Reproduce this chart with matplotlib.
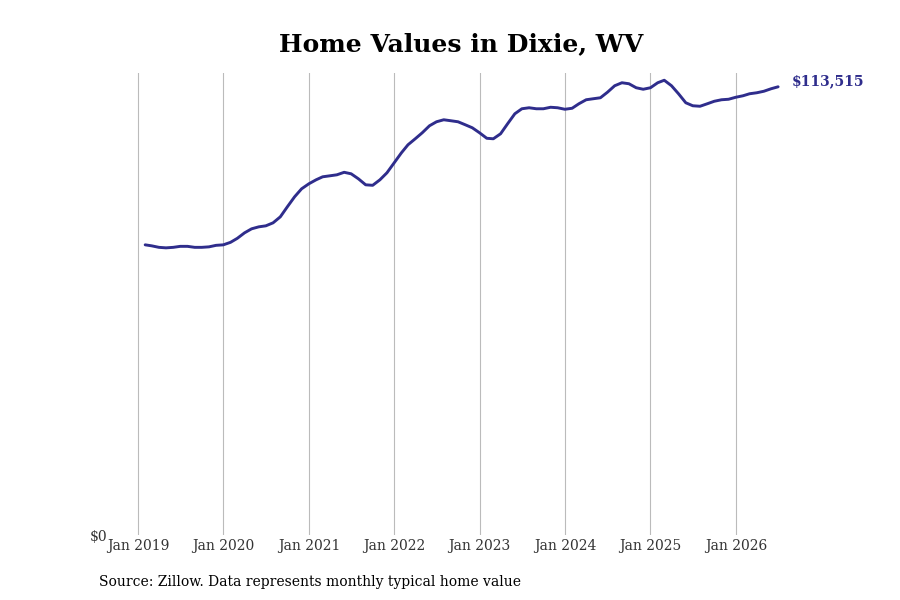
import pandas as pd
import matplotlib
matplotlib.use("Agg")
import matplotlib.pyplot as plt

# monthly typical home value, Feb 2019 .. Jul 2026
months = pd.date_range("2019-02-01", periods=90, freq="MS")
values = [
    73490, 73233, 72853, 72726, 72853, 73106, 73106, 72853, 72853, 72979, 73359,
    73486, 74120, 75133, 76527, 77540, 78047, 78301, 79061, 80581, 83115, 85649, 87676,
    88943, 89957, 90717, 90971, 91224, 91858, 91477, 90210, 88690, 88563, 89957, 91731,
    94265, 96799, 98826, 100346, 101867, 103641, 104654, 105161, 104908, 104654, 103894, 103134,
    101867, 100473, 100346, 101613, 104147, 106681, 107948, 108202, 107948, 107948, 108329, 108202,
    107822, 108075, 109215, 110229, 110482, 110736, 112130, 113777, 114537, 114283, 113270, 112890,
    113270, 114537, 115170, 113777, 111749, 109469, 108709, 108582, 109215, 109849, 110229, 110356,
    110863, 111243, 111749, 112003, 112383, 113016, 113515,
]
tick_years = list(range(2019, 2027))
tick_labels = ["Jan %d" % y for y in tick_years]

line_color = "#2f2d8c"

plt.rcParams["font.family"] = ["DejaVu Serif"]

fig = plt.figure(figsize=(9, 6), dpi=100)
ax = fig.add_axes([0.1244, 0.1083, 0.742, 0.77])

ax.plot(months, values, color=line_color, linewidth=2.1, solid_capstyle="round")

ax.set_xlim(pd.Timestamp("2018-09-12"), pd.Timestamp("2026-07-08"))
ax.set_ylim(0, 117000)

ax.set_xticks([pd.Timestamp("%d-01-01" % y) for y in tick_years])
ax.set_xticklabels(tick_labels, fontsize=10, color="#333333")
ax.set_yticks([0])
ax.set_yticklabels(["$0"], fontsize=10, color="#333333")
ax.tick_params(axis="both", length=0)
ax.tick_params(axis="x", pad=3)
ax.tick_params(axis="y", pad=3)

ax.grid(axis="x", color="#bbbbbb", linewidth=0.8)
ax.grid(axis="y", visible=False)
for s in ax.spines.values():
    s.set_visible(False)

ax.annotate("${:,}".format(values[-1]), xy=(months[-1], values[-1]),
            xytext=(10, 4), textcoords="offset points",
            color=line_color, fontsize=10, fontweight="bold",
            va="center", ha="left", annotation_clip=False)

fig.text(0.512, 0.927, "Home Values in Dixie, WV", ha="center", va="center",
         fontsize=18, fontweight="bold")
fig.text(0.11, 0.03, "Source: Zillow. Data represents monthly typical home value",
         ha="left", va="center", fontsize=10)

fig.savefig("out.png", dpi=100)
